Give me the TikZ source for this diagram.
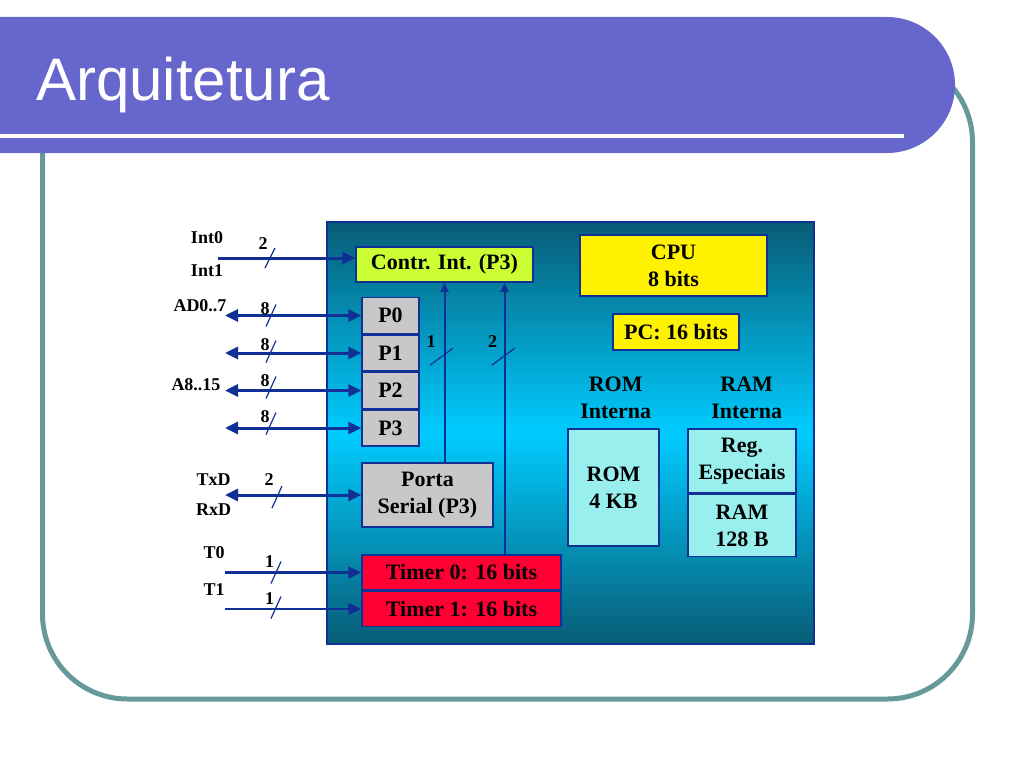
\documentclass[tikz,border=0pt]{standalone}
\usepackage{fontspec}
\setmainfont{Liberation Serif}
\newfontfamily\titlefont{Liberation Sans}
\usepackage{tikz}
\usetikzlibrary{arrows.meta}
\usetikzlibrary{positioning}

\definecolor{banner}{RGB}{102,102,204}
\definecolor{frameteal}{RGB}{102,153,153}
\definecolor{busblue}{RGB}{16,48,150}
\definecolor{chipdark}{RGB}{8,92,118}
\definecolor{chiplight}{RGB}{0,204,255}
\definecolor{intgreen}{RGB}{204,255,51}
\definecolor{portgray}{RGB}{200,200,200}
\definecolor{timerred}{RGB}{255,0,51}
\definecolor{memcyan}{RGB}{153,238,238}

\newcommand{\boxfont}{\fontsize{22}{27}\selectfont\bfseries}
\newcommand{\pinfont}{\fontsize{18}{22}\selectfont\bfseries}

\tikzset{
    blk/.style={draw=busblue, line width=1.5pt, inner sep=0pt, align=center, font=\boxfont},
    portbox/.style={blk, fill=portgray, minimum width=57pt, minimum height=36pt},
    timerbox/.style={blk, fill=timerred, minimum width=199pt, minimum height=35pt},
    membox/.style={blk, fill=memcyan, minimum width=108pt},
    bus/.style={draw=busblue, line width=3pt, -{Triangle[length=13pt, width=12pt]}},
    bus2/.style={bus, {Triangle[length=13pt, width=12pt]}-{Triangle[length=13pt, width=12pt]}},
    wire/.style={draw=busblue, line width=2pt, -{Triangle[length=9pt, width=8pt]}},
    tick/.style={draw=busblue, line width=1.2pt},
    pin/.style={font=\pinfont, inner sep=0pt}
}

\begin{document}
\begin{tikzpicture}[x=1pt, y=-1pt]
            \useasboundingbox (0,0) rectangle (1024,768);
            % slide frame and title bar
            \draw [frameteal, line width=5pt, rounded corners=85pt] (42.5,57) rectangle (972.5,699);
            \fill [banner] (0,17) -- (887,17) arc [start angle=90, end angle=-90, radius=68pt] -- (0,153) -- cycle;
            \draw [white, line width=4.5pt] (0,136) -- (904,136);
            \node [anchor=base west, inner sep=0pt, text=white, font=\titlefont\fontsize{60}{60}\selectfont] (title) at (36,100) {Arquitetura};
            % chip
            \node [draw=busblue, line width=1.5pt, top color=chipdark, bottom color=chipdark, middle color=chiplight, 
                minimum width=487pt, minimum height=422pt] (mcu) at (570.5,433) {};
            \node [blk, fill=intgreen, minimum width=177pt, minimum height=35pt] (contr) at (444.5,264.5) {Contr. Int. (P3)};
            \node [portbox] (p0) at (390.5,315.5) {P0};
            \node [portbox, below=0pt of p0] (p1) {P1};
            \node [portbox, below=0pt of p1] (p2) {P2};
            \node [portbox, below=0pt of p2] (p3) {P3};
            \node [blk, fill=portgray, minimum width=131pt, minimum height=64pt] (porta) at (427.5,495) {Porta\\Serial (P3)};
            \node [timerbox] (timer0) at (461.5,572.5) {Timer 0: 16 bits};
            \node [timerbox, below=0pt of timer0] (timer1) {Timer 1: 16 bits};
            \node [blk, fill=yellow, minimum width=187pt, minimum height=61pt] (cpu) at (673.5,265.5) {CPU\\8 bits};
            \node [blk, fill=yellow, minimum width=126pt, minimum height=36pt] (pc) at (676,332) {PC: 16 bits};
            \node [font=\boxfont, align=center] (romlbl) at (615.7,397.5) {ROM\\Interna};
            \node [font=\boxfont, align=center] (ramlbl) at (746.7,397.5) {RAM\\Interna};
            \node [blk, fill=memcyan, minimum width=91pt, minimum height=117pt] (rom) at (613.5,487.5) {ROM\\4 KB};
            \node [membox, minimum height=64pt] (reg) at (742,461) {Reg.\\Especiais};
            \node [membox, minimum height=62pt, below=0pt of reg] (ram) {RAM\\128 B};
            % pins
            \node [pin] (int0) at (207,238) {Int0};
            \node [pin] (int1) at (207,271) {Int1};
            \node [pin] (ad) at (200,306) {AD0..7};
            \node [pin] (ahi) at (196,385) {A8..15};
            \node [pin] (txd) at (213.5,480) {TxD};
            \node [pin] (rxd) at (213.5,510) {RxD};
            \node [pin] (t0) at (214,553) {T0};
            \node [pin] (t1) at (214,590) {T1};
            \coordinate (intin) at (218,258);
            \coordinate (io) at (225,0);
            \coordinate (c2) at ([xshift=60pt]contr.south);
            % buses
            \draw [bus] (intin) -- (intin -| contr.west);
            \draw [bus2] (p0.west -| io) -- (p0.west);
            \draw [bus2] (p1.west -| io) -- (p1.west);
            \draw [bus2] (p2.west -| io) -- (p2.west);
            \draw [bus2] (p3.west -| io) -- (p3.west);
            \draw [bus2] (porta.west -| io) -- (porta.west);
            \draw [bus, line width=2.5pt] (timer0.west -| io) -- (timer0.west);
            \draw [bus, line width=2.5pt] (timer1.west -| io) -- (timer1.west);
            \draw [wire] (porta.north -| contr.south) -- (contr.south);
            \draw [wire] (timer0.north -| c2) -- (c2);
            % bus widths
            \draw [tick] (270,258) ++(-5,10) -- ++(10,-20);
            \draw [tick] (271,315.5) ++(-5,11) -- ++(10,-22);
            \draw [tick] (271,351.5) ++(-5,11) -- ++(10,-22);
            \draw [tick] (271,387.5) ++(-5,11) -- ++(10,-22);
            \draw [tick] (271,423.5) ++(-5,11) -- ++(10,-22);
            \draw [tick] (277,497) ++(-5,11) -- ++(10,-22);
            \draw [tick] (276,572.5) ++(-5,11) -- ++(10,-22);
            \draw [tick] (276,607.5) ++(-5,11) -- ++(10,-22);
            \draw [tick] (441.5,356.7) ++(-11.5,8.5) -- ++(23,-17);
            \draw [tick] (503.3,356.7) ++(-11.5,8.5) -- ++(23,-17);
            \node [pin] (nint) at (263,244) {2};
            \node [pin] (np0) at (265,308.5) {8};
            \node [pin] (np1) at (265,344.5) {8};
            \node [pin] (np2) at (265,380.5) {8};
            \node [pin] (np3) at (265,416.5) {8};
            \node [pin] (nser) at (269,480) {2};
            \node [pin] (nt0) at (269.5,561.5) {1};
            \node [pin] (nt1) at (269.5,598.5) {1};
            \node [pin] (nw1) at (431,341.5) {1};
            \node [pin] (nw2) at (492.5,341.5) {2};
\end{tikzpicture}
\end{document}
